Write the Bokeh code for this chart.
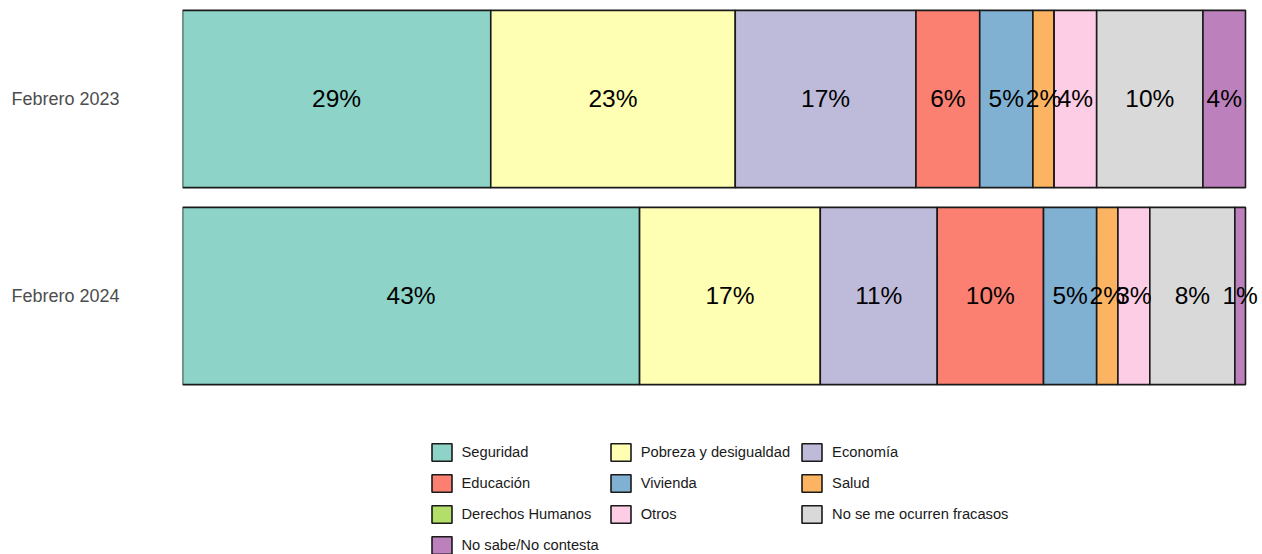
from bokeh.plotting import figure
from bokeh.models import (Range1d, LinearAxis, FixedTicker, ColumnDataSource,
                          LabelSet, Legend, LegendItem)
from bokeh.core.properties import value
from bokeh.embed import file_html
from bokeh.resources import INLINE

periods = ["Febrero 2023", "Febrero 2024"]
categories = ["Seguridad", "Pobreza y desigualdad", "Economía", "Educación",
              "Vivienda", "Salud", "Derechos Humanos", "Otros",
              "No se me ocurren fracasos", "No sabe/No contesta"]
values_2023 = [29, 23, 17, 6, 5, 2, 0, 4, 10, 4]
values_2024 = [43, 17, 11, 10, 5, 2, 0, 3, 8, 1]
colors = ["#8DD3C7", "#FFFFB3", "#BEBADA", "#FB8072", "#80B1D3",
          "#FDB462", "#B3DE69", "#FCCDE5", "#D9D9D9", "#BC80BD"]

FONT = "Liberation Sans"

p = figure(width=1262, height=554, output_backend="svg", toolbar_location=None,
           x_axis_type=None, y_axis_type=None,
           x_range=Range1d(0, 101.6), y_range=Range1d(2.3122, -0.5),
           min_border_left=182, min_border_right=0, min_border_top=0,
           min_border_bottom=0)
p.outline_line_color = None
p.xgrid.visible = False
p.ygrid.visible = False

series = [values_2023, values_2024]
ys = list(range(len(periods)))
cum = [0.0 for _ in periods]
items = []
lab_x, lab_y, lab_t = [], [], []
for i, cat in enumerate(categories):
    vals = [s[i] for s in series]
    left = list(cum)
    right = [c + v for c, v in zip(cum, vals)]
    src = ColumnDataSource(dict(y=ys, left=left, right=right))
    r = p.hbar(y="y", left="left", right="right", height=0.9, source=src,
               fill_color=colors[i], line_color="#1a1a1a", line_width=1.6)
    items.append(LegendItem(label=cat, renderers=[r]))
    for k, v in enumerate(vals):
        if v > 0:
            lab_x.append((left[k] + right[k]) / 2)
            lab_y.append(ys[k])
            lab_t.append(f"{v}%")
    cum = right

lsrc = ColumnDataSource(dict(x=lab_x, y=lab_y, t=lab_t))
labels = LabelSet(x="x", y="y", text="t", source=lsrc, text_align="center",
                  text_baseline="middle", text_font=value(FONT),
                  text_font_size="24.5px", text_color="black")
p.add_layout(labels)

yaxis = LinearAxis(ticker=FixedTicker(ticks=ys),
                   major_label_overrides={i: s for i, s in enumerate(periods)})
yaxis.axis_line_color = None
yaxis.major_tick_line_color = None
yaxis.minor_tick_line_color = None
yaxis.major_tick_out = 0
yaxis.major_tick_in = 0
yaxis.major_label_standoff = 63
yaxis.major_label_text_font = FONT
yaxis.major_label_text_font_size = "18px"
yaxis.major_label_text_color = "#4d4d4d"
p.add_layout(yaxis, "left")

legend = Legend(items=items, ncols=3, orientation="horizontal",
                location=(246.5, -2), glyph_width=25, glyph_height=22,
                label_height=22, label_standoff=8, spacing=9, padding=0,
                margin=0, border_line_color=None, background_fill_alpha=0,
                label_text_font=FONT, label_text_font_size="14.7px",
                label_text_color="#1a1a1a")
p.add_layout(legend, "center")

open("out.html", "w").write(file_html(p, INLINE))
